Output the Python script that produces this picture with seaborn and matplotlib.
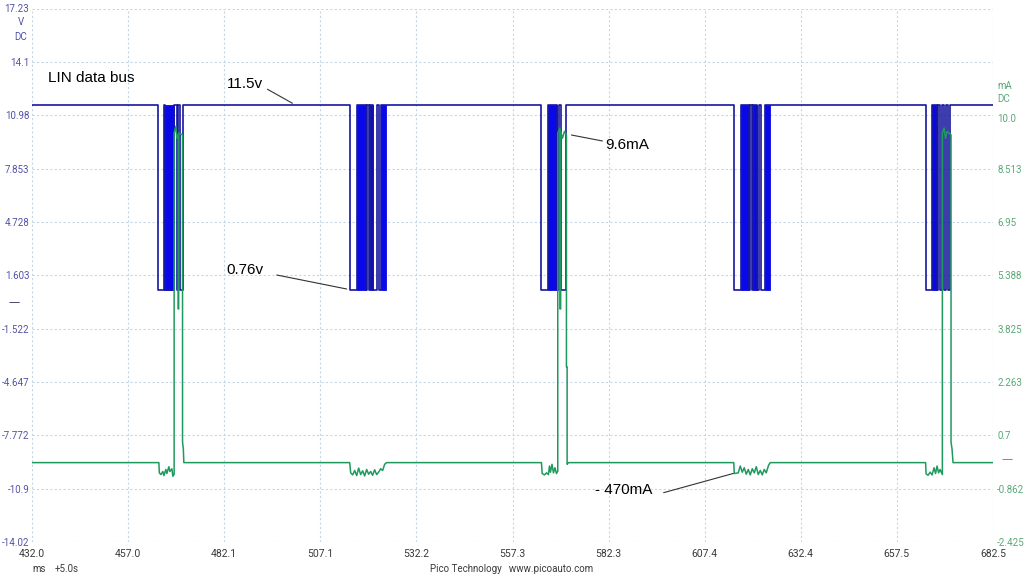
#!/usr/bin/env python3
"""
LIN data bus capture (PicoScope style): bus voltage on channel A,
current on channel B, five frames across a 250 ms window.
"""

import numpy as np
import pandas as pd
import matplotlib
matplotlib.use("Agg")
import matplotlib.pyplot as plt
import matplotlib.transforms as mtransforms
import seaborn as sns

# --- Scope window ---
T_START, T_END = 432.0, 682.5
V_MIN, V_MAX = -14.02, 17.23
MA_MIN, MA_MAX = -2.425, 13.2

x_tick_labels = ["432.0", "457.0", "482.1", "507.1", "532.2", "557.3",
                 "582.3", "607.4", "632.4", "657.5", "682.5"]
v_ticks = [-14.02, -10.9, -7.772, -4.647, -1.522, 1.603, 4.728, 7.853, 10.98, 14.1, 17.23]
v_tick_labels = ["-14.02", "-10.9", "-7.772", "-4.647", "-1.522", "1.603",
                 "4.728", "7.853", "10.98", "14.1", "17.23"]
ma_ticks = [-2.425, -0.862, 0.7, 2.263, 3.825, 5.388, 6.95, 8.513, 10.0]
ma_tick_labels = ["-2.425", "-0.862", "0.7", "2.263", "3.825", "5.388", "6.95", "8.513", "10.0"]

# --- Channel A: bus voltage (V) ---
v_high, v_low = 11.6, 0.74
# toggle times (ms), the line starts high and flips at every edge
edges_ms = [
    464.89, 466.45, 466.71, 469.05, 469.76, 470.10, 470.62, 471.24,
    514.89, 516.63, 518.97, 519.31, 519.83, 520.09, 520.98, 522.02, 522.54, 523.06,
    564.80, 566.55, 568.89, 569.31, 569.83, 571.23,
    615.06, 616.80, 618.78, 619.04, 619.67, 619.82, 620.97, 621.39, 622.01, 623.13,
    665.06, 666.54, 668.00, 668.26, 668.70, 669.14, 669.74, 670.26, 670.78, 671.29,
]
# stretches where the bits are too fast to resolve on screen
dense_start_ms = [466.71, 516.63, 520.09, 523.06, 566.55, 616.80, 619.82, 623.13, 666.54]
dense_end_ms = [469.05, 518.97, 520.98, 524.18, 568.89, 618.78, 620.97, 624.25, 668.00]

# --- Channel B: current (mA) ---
baseline_ma = -0.10
frame1_ms = [465.07, 465.20, 465.59, 466.11, 466.37, 466.89, 467.15, 467.67, 467.94, 468.46,
             468.72, 469.05, 469.05, 469.50, 469.76, 470.10, 470.10, 470.23, 470.23, 471.24,
             471.24, 471.45, 471.58]
frame1_ma = [-0.10, -0.40, -0.45, -0.36, -0.48, -0.30, -0.42, -0.22, -0.36, -0.28,
             -0.50, -0.44, 9.55, 9.75, 9.40, 9.50, 4.40, 4.40, 9.55, 9.50,
             0.50, 0.30, -0.10]
frame2_ms = [514.81, 515.07, 515.59, 516.11, 516.63, 517.15, 517.67, 518.19, 518.71, 519.23,
             519.75, 520.27, 520.79, 521.32, 521.84, 522.36, 522.88, 523.40, 523.92, 524.44]
frame2_ma = [-0.10, -0.40, -0.46, -0.33, -0.48, -0.26, -0.45, -0.34, -0.49, -0.30,
             -0.44, -0.36, -0.47, -0.31, -0.45, -0.38, -0.28, -0.33, -0.15, -0.10]
frame3_ms = [564.80, 564.98, 565.58, 566.10, 566.62, 566.88, 567.15, 567.54, 567.93, 568.32,
             568.71, 569.05, 569.05, 569.62, 569.62, 569.80, 569.80, 570.27, 570.79, 571.31,
             571.31, 571.49, 571.49, 571.83]
frame3_ma = [-0.10, -0.42, -0.46, -0.40, -0.45, -0.20, -0.38, -0.15, -0.40, -0.25,
             -0.42, -0.35, 9.55, 9.70, 4.40, 4.40, 9.60, 9.40, 9.60, 9.50,
             2.70, 2.70, -0.15, -0.10]
frame4_ms = [614.93, 615.06, 616.10, 616.62, 617.14, 617.66, 618.18, 618.70, 619.22, 619.75,
             620.27, 620.79, 621.31, 621.83, 622.35, 622.87, 623.39, 623.99, 624.43]
frame4_ma = [-0.10, -0.42, -0.40, -0.20, -0.38, -0.25, -0.44, -0.30, -0.46, -0.28,
             -0.40, -0.22, -0.45, -0.33, -0.46, -0.30, -0.40, -0.18, -0.10]
frame5_ms = [664.92, 665.06, 665.58, 666.10, 666.62, 667.14, 667.53, 667.92, 668.31, 668.70,
             669.30, 669.30, 669.74, 670.13, 670.52, 671.56, 671.56, 671.82, 672.08]
frame5_ma = [-0.10, -0.43, -0.47, -0.38, -0.46, -0.25, -0.42, -0.20, -0.40, -0.30,
             -0.45, 9.55, 9.70, 9.40, 9.60, 9.50, 0.50, 0.30, -0.10]

# --- Colours ---
BLUE_LINE = "#16169e"
BLUE_FILL = "#0808e8"
GREEN = "#1f9a5e"
GRID = "#c4d6e8"
V_LABEL = "#5252a8"
MA_LABEL = "#5aa878"
TICK_FONT = ["Roboto", "DejaVu Sans"]

sns.set_theme(style="white")
plt.rcParams['font.family'] = ['Noto Sans', 'DejaVu Sans']


def voltage_frame():
    t, v = [T_START], [v_high]
    level = v_high
    for e in edges_ms:
        nxt = v_low if level == v_high else v_high
        t += [e, e]
        v += [level, nxt]
        level = nxt
    t.append(T_END)
    v.append(level)
    return pd.DataFrame({"ms": t, "V": v})


def current_frame():
    t = [T_START]
    a = [baseline_ma]
    for ms, ma in [(frame1_ms, frame1_ma), (frame2_ms, frame2_ma), (frame3_ms, frame3_ma),
                   (frame4_ms, frame4_ma), (frame5_ms, frame5_ma)]:
        t += ms
        a += ma
    t.append(T_END)
    a.append(baseline_ma)
    return pd.DataFrame({"ms": t, "mA": a})


fig = plt.figure(figsize=(10.24, 5.76), dpi=100)
ax = fig.add_axes([32 / 1024, 1 - 542 / 576, 961 / 1024, 533.5 / 576])

# Channel A
df_v = voltage_frame()
sns.lineplot(data=df_v, x="ms", y="V", estimator=None, sort=False, ax=ax,
             color=BLUE_LINE, lw=1.2, legend=False)
for a, b in zip(dense_start_ms, dense_end_ms):
    ax.fill_between([a, b], v_low, v_high, color=BLUE_FILL, lw=0.6, edgecolor=BLUE_FILL)

ax.set_xlim(T_START, T_END)
ax.set_ylim(V_MIN, V_MAX)
ax.set_xticks(np.linspace(T_START, T_END, 11))
ax.set_xticklabels(x_tick_labels, family=TICK_FONT)
ax.set_yticks(v_ticks)
ax.set_yticklabels(v_tick_labels, family=TICK_FONT)
ax.set_xlabel("")
ax.set_ylabel("")
ax.grid(True, color=GRID, linestyle=(0, (2, 2)), lw=0.8)
ax.tick_params(axis="y", length=0, pad=2, labelsize=7, labelcolor=V_LABEL)
ax.tick_params(axis="x", length=0, pad=5, labelsize=7.5, labelcolor="#3a3a3a")
for s in ax.spines.values():
    s.set_visible(False)

# Channel B
ax2 = ax.twinx()
df_i = current_frame()
sns.lineplot(data=df_i, x="ms", y="mA", estimator=None, sort=False, ax=ax2,
             color=GREEN, lw=1.1, legend=False)
ax2.set_xlim(T_START, T_END)
ax2.set_ylim(MA_MIN, MA_MAX)
ax2.set_yticks(ma_ticks)
ax2.set_yticklabels(ma_tick_labels, family=TICK_FONT)
ax2.set_ylabel("")
ax2.set_xlabel("")
ax2.grid(False)
ax2.tick_params(axis="y", length=0, pad=3, labelsize=7, labelcolor=MA_LABEL)
for s in ax2.spines.values():
    s.set_visible(False)

# --- Annotations ---
ann = dict(fontsize=11, color="black", family=["Liberation Sans", "DejaVu Sans"], va="center")
ax.text(436.17, 13.16, "LIN data bus", **ann)
ax.text(482.78, 12.78, "11.5v", **ann)
ax.plot([493.37, 499.88], [12.50, 11.68], color="#333333", lw=0.8)
ax.text(482.78, 1.91, "0.76v", **ann)
ax.plot([495.80, 514.02], [1.62, 0.80], color="#333333", lw=0.8)
ax.text(581.47, 9.24, "9.6mA", **ann)
ax.plot([572.61, 580.69], [9.82, 9.47], color="#333333", lw=0.8)
ax.text(578.86, -10.97, "- 470mA", **ann)
ax.plot([596.65, 614.88], [-11.13, -10.00], color="#333333", lw=0.8)

# zero markers for each channel
blend_l = mtransforms.blended_transform_factory(ax.transAxes, ax.transData)
ax.text(-0.024, 0.0, "\u2014", transform=blend_l, color="#202040", fontsize=8,
        ha="left", va="center", clip_on=False)
blend_r = mtransforms.blended_transform_factory(ax2.transAxes, ax2.transData)
ax2.text(1.009, 0.0, "\u2014", transform=blend_r, color=GREEN, fontsize=8,
         ha="left", va="center", clip_on=False)

# --- Unit labels and footer ---
unit = dict(fontsize=7, family=TICK_FONT, va="center")
fig.text(21 / 1024, 1 - 22 / 576, "V", color=V_LABEL, ha="center", **unit)
fig.text(21 / 1024, 1 - 37 / 576, "DC", color=V_LABEL, ha="center", **unit)
fig.text(997 / 1024, 1 - 86 / 576, "mA", color=MA_LABEL, ha="left", **unit)
fig.text(997 / 1024, 1 - 99 / 576, "DC", color=MA_LABEL, ha="left", **unit)
fig.text(32 / 1024, 1 - 569 / 576, "ms", color="#3a3a3a", ha="left", **unit)
fig.text(55 / 1024, 1 - 569 / 576, "+5.0s", color="#3a3a3a", ha="left", **unit)
fig.text(512 / 1024, 1 - 569 / 576, "Pico Technology   www.picoauto.com", color="#3a3a3a",
         ha="center", **unit)

fig.savefig("out.png", dpi=100, facecolor="white")
plt.close(fig)
